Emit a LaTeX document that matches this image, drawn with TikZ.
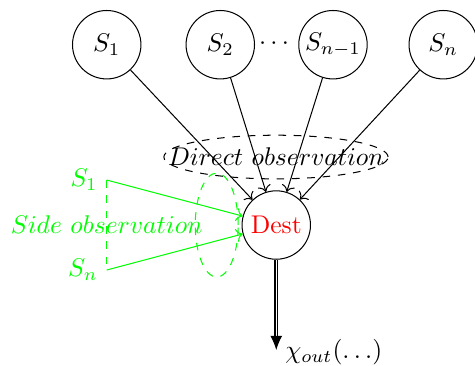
\documentclass[tikz,border=0pt]{standalone}
\usetikzlibrary{arrows.meta, positioning}

\begin{document}
\begin{tikzpicture}[
    src/.style    = {circle, draw, minimum size=0.94cm, inner sep=1pt},
    arrow/.style  = {->},
    sidearr/.style= {->, green},
    obsring/.style= {dashed},
    outarr/.style = {double, -{Latex[length=5.5pt, width=4.6pt]}}
]
\useasboundingbox (0,0) rectangle (6.525,-5.027);

% --- Sumber ---
\node[src] (s1)  at (1.466,-0.614) {$S_1$};
\node[src] (s2)  at (3.026,-0.614) {$S_2$};
\node[src] (sn1) at (4.574,-0.614) {$S_{n-1}$};
\node[src] (sn)  at (6.089,-0.614) {$S_n$};
\node (dots) at (3.764,-0.604) {$\cdots$};

% --- Tujuan ---
\node[src, text=red] (dest) at (3.795,-3.091) {Dest};
\coordinate (out) at (3.795,-4.808);
\node[right=0pt of out, yshift=-1pt] (outlbl) {$\chi_{out}(\ldots)$};

% --- Direct observation ---
\node (direct) at (3.791,-2.157) {$Direct\ observation$};
\draw[obsring] (direct.center) ellipse (1.54 and 0.30);

% --- Side observation ---
\coordinate (side1) at (1.466,-2.473);
\coordinate (siden) at (1.466,-3.709);
\node[green, left=0pt of side1] (lbl1) {$S_1$};
\node[green, left=0pt of siden] (lbln) {$S_n$};
\draw[green, dashed] (side1) -- (siden);
\node[green] (side) at (1.466,-3.091) {$Side\ observation$};
\draw[green, obsring] (2.977,-3.091) ellipse (0.295 and 0.714);

% --- Arrows ---
\draw[arrow] (s1) -- (dest);
\draw[arrow] (s2) -- (dest);
\draw[arrow] (sn1) -- (dest);
\draw[arrow] (sn) -- (dest);
\draw[sidearr] (side1) -- (dest);
\draw[sidearr] (siden) -- (dest);
\draw[outarr] (dest) -- (out);

\end{tikzpicture}
\end{document}
